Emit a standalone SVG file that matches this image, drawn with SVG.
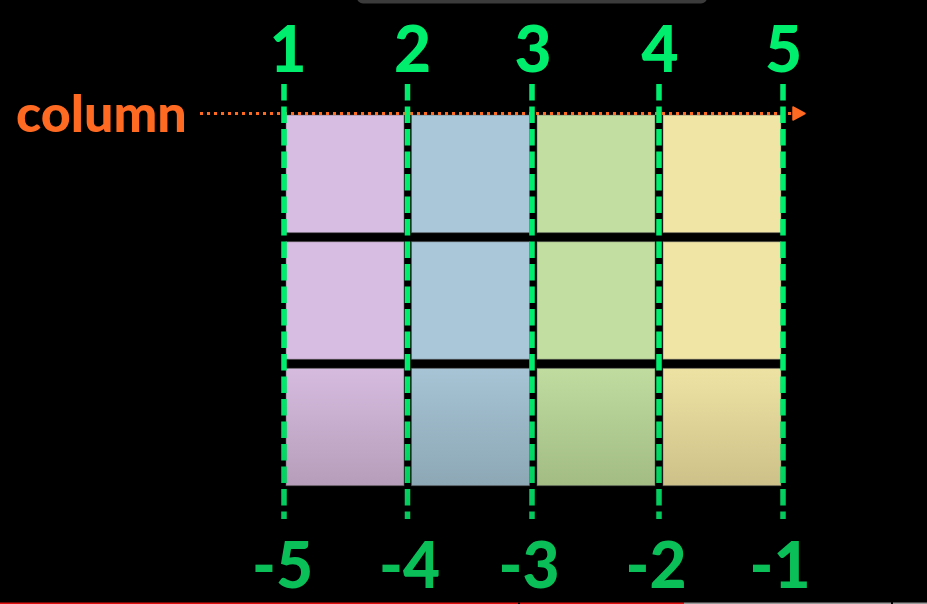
<svg xmlns="http://www.w3.org/2000/svg" width="927" height="604" viewBox="0 0 927 604">
<defs>
<style>
.cell{stroke:#555;stroke-opacity:0.5;stroke-width:1}
.top{font-family:Lato,"Liberation Sans",sans-serif;font-weight:900;font-size:64px;fill:#00ee6e;text-anchor:middle}
.bot{font-family:Lato,"Liberation Sans",sans-serif;font-weight:900;font-size:64px;fill:#0abf58;text-anchor:middle}
.grid{fill:none;stroke:url(#gLine);stroke-width:5.5;stroke-dasharray:16.5 6}
.lbl{font-family:Lato,"Liberation Sans",sans-serif;font-weight:900;font-size:52px;fill:#ff6a22}
</style>
<linearGradient id="gLine" gradientUnits="userSpaceOnUse" x1="0" y1="84" x2="0" y2="519">
<stop offset="0.65" stop-color="#00ee6e"/>
<stop offset="1" stop-color="#05c85c"/>
</linearGradient>
<linearGradient id="gP" x1="0" y1="0" x2="0" y2="1"><stop offset="0" stop-color="#d6bbdf"/><stop offset="1" stop-color="#b69eba"/></linearGradient>
<linearGradient id="gB" x1="0" y1="0" x2="0" y2="1"><stop offset="0" stop-color="#a6c4d5"/><stop offset="1" stop-color="#8da7b5"/></linearGradient>
<linearGradient id="gG" x1="0" y1="0" x2="0" y2="1"><stop offset="0" stop-color="#c0dc9f"/><stop offset="1" stop-color="#a2bc84"/></linearGradient>
<linearGradient id="gY" x1="0" y1="0" x2="0" y2="1"><stop offset="0" stop-color="#eee2a3"/><stop offset="1" stop-color="#cdc189"/></linearGradient>
<marker id="arr" markerUnits="userSpaceOnUse" markerWidth="16" markerHeight="16" refX="1" refY="8" orient="auto" viewBox="0 0 16 16">
<path d="M1,1.5 L13,8 L1,14.5 Z" fill="#ff6a22" stroke="#ff6a22" stroke-width="1.5" stroke-linejoin="round"/>
</marker>
</defs>
<rect width="927" height="604" fill="#000"/>
<rect x="357" y="-10" width="350" height="13.5" rx="6" fill="#3b3b3b"/>
<g id="cells">
<g id="col1">
<rect class="cell" x="286" y="115" width="118" height="117.7" fill="#d8bde2"/>
<rect class="cell" x="286" y="241.7" width="118" height="117.6" fill="#d8bde2"/>
<rect class="cell" x="286" y="368.3" width="118" height="117.4" fill="url(#gP)"/>
</g>
<g id="col2">
<rect class="cell" x="411.5" y="115" width="118" height="117.7" fill="#a9c7d8"/>
<rect class="cell" x="411.5" y="241.7" width="118" height="117.6" fill="#a9c7d8"/>
<rect class="cell" x="411.5" y="368.3" width="118" height="117.4" fill="url(#gB)"/>
</g>
<g id="col3">
<rect class="cell" x="537" y="115" width="118" height="117.7" fill="#c2dfa1"/>
<rect class="cell" x="537" y="241.7" width="118" height="117.6" fill="#c2dfa1"/>
<rect class="cell" x="537" y="368.3" width="118" height="117.4" fill="url(#gG)"/>
</g>
<g id="col4">
<rect class="cell" x="663" y="115" width="118" height="117.7" fill="#f0e5a5"/>
<rect class="cell" x="663" y="241.7" width="118" height="117.6" fill="#f0e5a5"/>
<rect class="cell" x="663" y="368.3" width="118" height="117.4" fill="url(#gY)"/>
</g>
</g>
<g id="label-column">
<text class="lbl" x="16" y="132">column</text>
</g>
<g id="connectors">
<path d="M200,113.5 H793" fill="none" stroke="#ff6a22" stroke-width="3" stroke-dasharray="3 4" marker-end="url(#arr)"/>
<path class="grid" d="M284,84 V519"/>
<path class="grid" d="M407.5,84 V519"/>
<path class="grid" d="M532,84 V519"/>
<path class="grid" d="M659,84 V519"/>
<path class="grid" d="M783,84 V519"/>
</g>
<g id="top-labels">
<text class="top" x="288" y="72">1</text>
<text class="top" x="412.5" y="72">2</text>
<text class="top" x="533" y="72">3</text>
<text class="top" x="660" y="72">4</text>
<text class="top" x="783.5" y="72">5</text>
</g>
<g id="bottom-labels">
<text class="bot" x="282.5" y="588">-5</text>
<text class="bot" x="409.5" y="588">-4</text>
<text class="bot" x="529" y="588">-3</text>
<text class="bot" x="656" y="588">-2</text>
<text class="bot" x="780" y="588">-1</text>
</g>
<g id="progress">
<rect x="0" y="602.5" width="684" height="1.5" fill="#e01010"/>
<rect x="518" y="602.5" width="2" height="1.5" fill="#000"/>
<rect x="684" y="602.5" width="207" height="1.5" fill="#9a9a9a"/>
<rect x="893" y="602.5" width="34" height="1.5" fill="#9a9a9a"/>
</g>
</svg>
